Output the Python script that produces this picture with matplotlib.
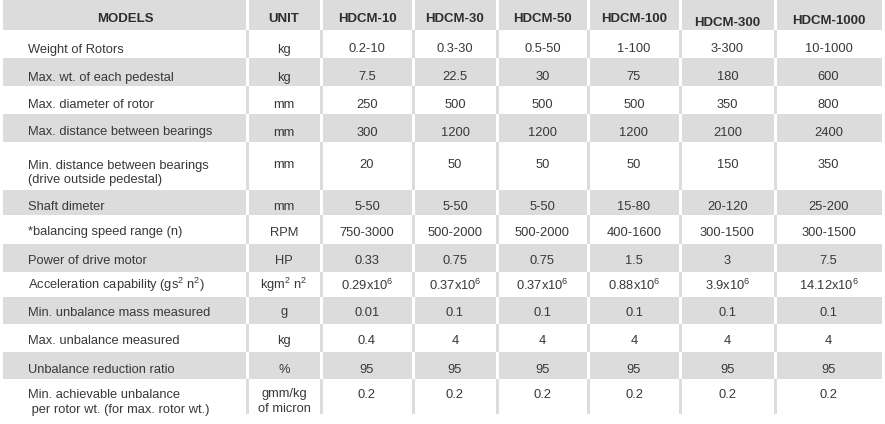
import matplotlib.pyplot as plt
from matplotlib.patches import Rectangle

plt.rcParams['font.family'] = ['Liberation Sans', 'DejaVu Sans']
plt.rcParams['mathtext.fontset'] = 'custom'
plt.rcParams['mathtext.rm'] = 'Liberation Sans'
plt.rcParams['mathtext.it'] = 'Liberation Sans:italic'
plt.rcParams['mathtext.bf'] = 'Liberation Sans:bold'

# table content
header_first = ["MODELS", "UNIT"]
models = ["HDCM-10", "HDCM-30", "HDCM-50", "HDCM-100", "HDCM-300", "HDCM-1000"]

parameters = [
    "Weight of Rotors",
    "Max. wt. of each pedestal",
    "Max. diameter of rotor",
    "Max. distance between bearings",
    "Min. distance between bearings\n(drive outside pedestal)",
    "Shaft dimeter",
    "*balancing speed range (n)",
    "Power of drive motor",
    r"Acceleration capability (gs$^2$ n$^2$)",
    "Min. unbalance mass measured",
    "Max. unbalance measured",
    "Unbalance reduction ratio",
    "Min. achievable unbalance\n per rotor wt. (for max. rotor wt.)",
]
units = ["kg", "kg", "mm", "mm", "mm", "mm", "RPM", "HP", r"kgm$^2$ n$^2$",
         "g", "kg", "%", "gmm/kg\nof micron"]

weight_of_rotors = ["0.2-10", "0.3-30", "0.5-50", "1-100", "3-300", "10-1000"]
max_pedestal_wt = ["7.5", "22.5", "30", "75", "180", "600"]
max_rotor_diameter = ["250", "500", "500", "500", "350", "800"]
max_bearing_distance = ["300", "1200", "1200", "1200", "2100", "2400"]
min_bearing_distance = ["20", "50", "50", "50", "150", "350"]
shaft_diameter = ["5-50", "5-50", "5-50", "15-80", "20-120", "25-200"]
balancing_speed = ["750-3000", "500-2000", "500-2000", "400-1600", "300-1500", "300-1500"]
drive_power = ["0.33", "0.75", "0.75", "1.5", "3", "7.5"]
acceleration = ["0.29", "0.37", "0.37", "0.88", "3.9", "14.12"]
min_unbalance_mass = ["0.01", "0.1", "0.1", "0.1", "0.1", "0.1"]
max_unbalance = ["0.4", "4", "4", "4", "4", "4"]
reduction_ratio = ["95", "95", "95", "95", "95", "95"]
min_achievable = ["0.2", "0.2", "0.2", "0.2", "0.2", "0.2"]

rows = [weight_of_rotors, max_pedestal_wt, max_rotor_diameter, max_bearing_distance,
        min_bearing_distance, shaft_diameter, balancing_speed, drive_power,
        [a + r"x10$^6$" for a in acceleration],
        min_unbalance_mass, max_unbalance, reduction_ratio, min_achievable]

# layout (pixels)
W, H = 885, 424
col_edges = [3, 247, 321, 413, 497, 588, 680, 775, 882]
row_edges = [0, 30, 58, 86, 114, 142, 190, 215, 244, 272, 297, 324, 352, 379, 414]
baselines = [22.5, 52.5, 80.5, 107.5, 135.5, 168.5, 210, 235.5, 264, 289.5, 315.5, 344, 373, 397.5]
header_shift = [0, 0, 0, 0, 0, 0, 3.5, 1.5]
line_gap = 15
gap = 3
gray = "#dcdcdd"
text_col = "#383838"

fig = plt.figure(figsize=(W / 100, H / 100), dpi=100)
ax = fig.add_axes([0, 0, 1, 1])
ax.set_xlim(0, W)
ax.set_ylim(H, 0)
ax.axis('off')

for r in range(len(row_edges) - 1):
    top, bot = row_edges[r], row_edges[r + 1]
    if r % 2 == 0:
        ax.add_patch(Rectangle((col_edges[0], top), col_edges[-1] - col_edges[0], bot - top,
                               facecolor=gray, edgecolor='none'))
        sep = "white"
    else:
        sep = gray
    for x in col_edges[1:-1]:
        ax.add_patch(Rectangle((x - gap / 2, top), gap, bot - top, facecolor=sep, edgecolor='none'))

centers = [(col_edges[i] + col_edges[i + 1]) / 2 for i in range(len(col_edges) - 1)]

def put(x, y, s, ha, **kw):
    for k, line in enumerate(s.split("\n")):
        ax.text(x, y + k * line_gap, line, ha=ha, va='baseline', **kw)

# header
for i, h in enumerate(header_first + models):
    put(centers[i], baselines[0] + header_shift[i], h, 'center',
        fontsize=9.5, fontweight='bold', color="#2e2e2e")

# body
fs = 9.3
for r, (p, u, vals) in enumerate(zip(parameters, units, rows)):
    y = baselines[r + 1]
    put(28, y, p, 'left', fontsize=fs, color=text_col)
    put(centers[1], y, u, 'center', fontsize=fs, color=text_col)
    for i, v in enumerate(vals):
        put(centers[i + 2], y, v, 'center', fontsize=fs, color=text_col)

fig.savefig("out.png", dpi=100)
